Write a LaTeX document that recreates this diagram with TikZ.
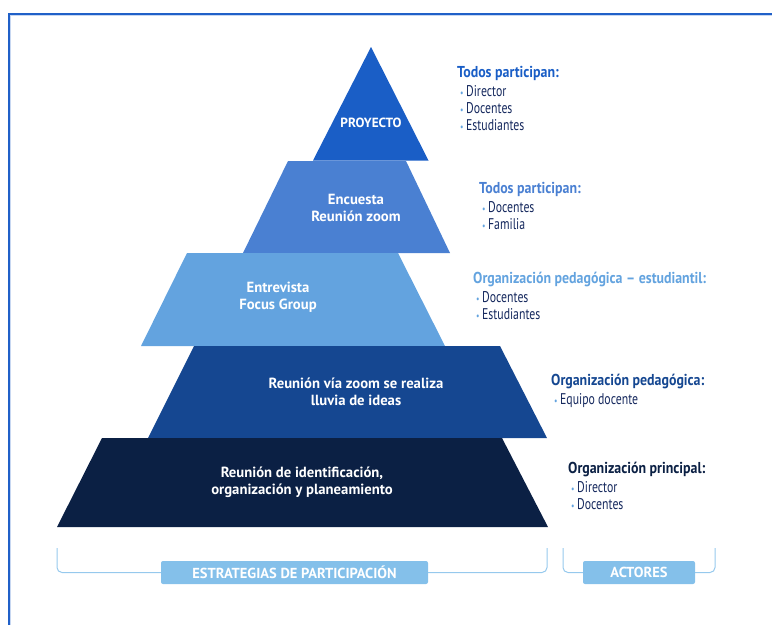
\documentclass[tikz,border=0pt]{standalone}
\usepackage{fontspec}
\setmainfont{PT Sans}
\newfontfamily\narrowfont[FakeStretch=0.76]{PT Sans}
\newfontfamily\headfont[FakeStretch=0.88]{PT Sans}
\usetikzlibrary{positioning}
\usepackage{xcolor}
\definecolor{PyrBlue}{HTML}{1A5EC6}
\definecolor{PyrMid}{HTML}{4A80D2}
\definecolor{PyrSky}{HTML}{63A3DF}
\definecolor{PyrNavy}{HTML}{154791}
\definecolor{PyrDark}{HTML}{0B2044}
\definecolor{TagBlue}{HTML}{84C0EA}
\definecolor{ListInk}{HTML}{16295E}
\definecolor{FrameBlue}{HTML}{2060C8}

\newcommand{\itm}{\hspace{3pt}{\color{PyrSky}\normalsize\textbullet}\hspace{2.5pt}}
\newcommand{\hd}[2]{{\headfont\bfseries\fontsize{15.8}{17}\selectfont\color{#1}#2}}

\tikzset{
  lbl/.style={text=white, font=\bfseries\fontsize{14.7}{17}\selectfont, align=center},
  actor/.style={anchor=north west, inner sep=0, align=left, text=ListInk, font=\narrowfont\fontsize{15.5}{17}\selectfont},
  tag/.style={fill=TagBlue, rounded corners=2, text=white, font=\bfseries\fontsize{14.5}{16}\selectfont, minimum height=23, inner sep=0},
  brace/.style={draw=TagBlue!85, line width=1, rounded corners=5},
}

\begin{document}
\begin{tikzpicture}[x=1pt, y=-1pt]
  \useasboundingbox (0,0) rectangle (772,625);
  % frame
  \draw[FrameBlue!25, line width=1] (10.8,625) -- (10.8,15.8) -- (772,15.8);
  \draw[FrameBlue, line width=1.4] (9,625) -- (9,14) -- (772,14);

  % pyramid
  \fill[PyrBlue] (371,47) -- (428.5,160.5) -- (313,160.5) -- cycle;
  \fill[PyrMid] (288,161) -- (406,161) -- (450,253) -- (243,253) -- cycle;
  \fill[PyrSky] (187,253) -- (398,253) -- (445,346) -- (141,346) -- cycle;
  \fill[PyrNavy] (194,346) -- (500,346) -- (547,438) -- (148,438) -- cycle;
  \fill[PyrDark] (102,438) -- (502,438) -- (548,527) -- (57,527) -- cycle;

  \node[lbl, font=\bfseries\fontsize{13.3}{15}\selectfont] (proyecto) at (371,123) {PROYECTO};
  \node[lbl] (encuesta) at (356,207.5) {Encuesta\\Reunión zoom};
  \node[lbl] (entrevista) at (278,297.5) {Entrevista\\Focus Group};
  \node[lbl] (lluvia) at (356,391.5) {Reunión vía zoom se realiza\\lluvia de ideas};
  \node[lbl] (reunion) at (302,482.5) {Reunión de identificación,\\organización y planeamiento};

  % actores
  \node[actor] (todos1) at (457,66) {\hd{PyrBlue}{Todos participan:}\\[2pt]
    \itm Director\\ \itm Docentes\\ \itm Estudiantes};
  \node[actor] (todos2) at (479,182) {\hd{PyrMid}{Todos participan:}\\[2pt]
    \itm Docentes\\ \itm Familia};
  \node[actor] (orgEst) at (473,272) {\hd{PyrSky}{Organización pedagógica – estudiantil:}\\[2pt]
    \itm Docentes\\ \itm Estudiantes};
  \node[actor] (orgPed) at (551,374) {\hd{PyrNavy}{Organización pedagógica:}\\[2pt]
    \itm Equipo docente};
  \node[actor] (orgPrin) at (568,462) {\hd{PyrDark}{Organización principal:}\\[2pt]
    \itm Director\\ \itm Docentes};

  % brackets
  \coordinate (estrL) at (57,548);
  \coordinate (estrR) at (547,548);
  \coordinate (actL) at (563,548);
  \coordinate (actR) at (715,548);
  \node[tag, minimum width=267] (estrategias) at (294.5,572.5) {ESTRATEGIAS DE PARTICIPACIÓN};
  \node[tag, minimum width=112] (actores) at (639,572.5) {ACTORES};
  \draw[brace] (estrL) |- (estrategias.west);
  \draw[brace] (estrategias.east) -| (estrR);
  \draw[brace] (actL) |- (actores.west);
  \draw[brace] (actores.east) -| (actR);
\end{tikzpicture}
\end{document}
